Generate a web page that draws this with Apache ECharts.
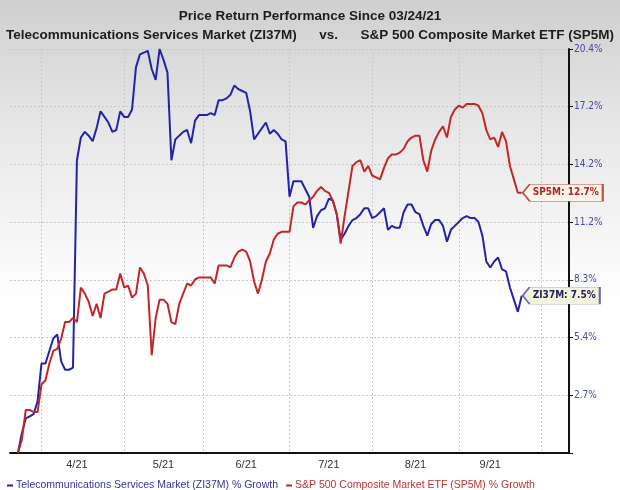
<!DOCTYPE html>
<html>
<head>
<meta charset="utf-8">
<script src="https://cdn.jsdelivr.net/npm/echarts@6/dist/echarts.min.js"></script>
<style>
  html, body { margin: 0; padding: 0; }
  #main {
    width: 620px;
    height: 490px;
    background: linear-gradient(to bottom, #cfcfcf 0%, #e6e6e6 25%, #ffffff 62%, #ffffff 100%);
  }
</style>
</head>
<body>
<div id="main"></div>
<script>
// trading days shown on the x axis (first two are before the data starts)
const startDate = '2021-03-22'
const dayCount = 143
const holidays = ['2021-04-02', '2021-05-31', '2021-07-05', '2021-09-06']
const dataStart = '2021-03-24'

// month labels and the day each one sits on
const xLabels = ['4/21', '5/21', '6/21', '7/21', '8/21', '9/21']
const xLabelDates = ['2021-04-15', '2021-05-17', '2021-06-16', '2021-07-16', '2021-08-17', '2021-09-14']

// right axis tick labels (log spaced on the chart)
const yLabels = ['', '2.7%', '5.4%', '8.3%', '11.2%', '14.2%', '17.2%', '20.4%']
const yTop = 20.4

// % growth since 03/24/21
const zi37m = [
  0.0, 0.9, 1.6, 1.7, 1.8, 2.4, 4.2, 4.2, 4.8, 5.4,
  5.6, 4.3, 3.9, 3.9, 4.0, 14.4, 15.6, 15.9, 15.7, 15.4,
  16.1, 17.0, 16.7, 16.4, 15.9, 16.0, 17.0, 16.7, 16.7, 17.1,
  19.4, 20.1, 20.2, 20.3, 19.3, 18.7, 20.4, 19.8, 19.1, 14.4,
  15.5, 15.7, 15.9, 16.0, 15.3, 16.5, 16.8, 16.8, 16.8, 16.9,
  16.8, 17.6, 17.6, 17.7, 17.9, 18.4, 18.2, 18.1, 18.0, 17.0,
  15.5, 15.8, 16.1, 16.4, 15.8, 16.0, 15.8, 15.5, 15.4, 12.5,
  13.3, 13.3, 13.3, 12.9, 12.5, 10.9, 11.5, 11.8, 11.9, 12.4,
  12.3, 11.6, 10.3, 10.6, 11.0, 11.3, 11.4, 11.6, 11.9, 11.9,
  11.4, 11.5, 11.7, 11.9, 10.8, 11.0, 10.9, 10.9, 11.7, 12.1,
  12.1, 11.7, 11.6, 11.0, 10.5, 11.1, 11.3, 11.3, 11.0, 10.2,
  10.8, 11.0, 11.2, 11.4, 11.5, 11.4, 11.4, 11.2, 10.5, 9.2,
  8.9, 9.2, 9.4, 8.8, 8.7, 7.9, 7.3, 6.7, 7.5
]
const sp5m = [
  0.0, 0.6, 2.0, 2.0, 1.9, 1.9, 3.2, 3.4, 4.2, 4.8,
  4.9, 5.4, 6.2, 6.2, 6.4, 6.2, 7.9, 7.6, 7.2, 6.5,
  7.1, 6.4, 7.6, 7.7, 7.8, 7.8, 8.6, 7.9, 8.0, 7.4,
  7.6, 8.9, 8.6, 8.0, 4.6, 6.4, 7.3, 7.3, 7.1, 6.2,
  6.1, 7.1, 7.6, 8.1, 8.0, 8.3, 8.4, 8.4, 8.4, 8.4,
  8.1, 9.0, 9.0, 9.0, 8.9, 9.4, 9.7, 9.8, 9.7, 9.2,
  8.2, 7.6, 8.3, 9.2, 9.6, 10.3, 10.6, 10.7, 10.7, 10.7,
  12.0, 12.2, 12.2, 12.1, 12.3, 12.5, 12.8, 13.0, 12.8, 12.7,
  12.3, 11.6, 10.1, 11.5, 12.8, 14.1, 14.3, 14.4, 13.8, 14.1,
  13.6, 13.5, 13.4, 14.0, 14.5, 14.7, 14.7, 14.8, 15.0, 15.4,
  15.6, 15.7, 15.7, 14.4, 13.8, 14.9, 15.5, 15.9, 16.2, 15.6,
  16.7, 17.1, 17.3, 17.2, 17.4, 17.4, 17.4, 17.3, 16.9, 16.0,
  15.5, 15.6, 15.1, 15.9, 15.4, 14.1, 13.4, 12.7, 12.7
]

const blueName = 'Telecommunications Services Market (ZI37M) % Growth'
const redName = 'S&P 500 Composite Market ETF (SP5M) % Growth'

function tradingDays(start, count) {
  const out = []
  const d = new Date(start + 'T00:00:00Z')
  while (out.length < count) {
    const s = d.toISOString().slice(0, 10)
    const wd = d.getUTCDay()
    if (wd !== 0 && wd !== 6 && holidays.indexOf(s) < 0) out.push(s)
    d.setUTCDate(d.getUTCDate() + 1)
  }
  return out
}

const categories = tradingDays(startDate, dayCount)
const offset = categories.indexOf(dataStart)
const logStep = Math.log(1 + yTop / 100) / (yLabels.length - 1)
// growth % -> position on the log spaced axis
const toAxis = p => Math.log(1 + p / 100) / logStep

function buildData(values) {
  return categories.map((d, k) => {
    const j = k - offset
    return j >= 0 && j < values.length ? toAxis(values[j]) : null
  })
}

function endTag(values, text, width, fill, border, textColor) {
  const last = values.length - 1
  return {
    silent: true,
    symbol: 'path://M0,8 L7,0 L80,0 L80,16 L7,16 Z',
    symbolKeepAspect: false,
    symbolSize: [width, 17],
    symbolOffset: [width / 2 + 1, 0],
    itemStyle: { color: fill, borderColor: border, borderWidth: 1 },
    label: {
      show: true,
      position: 'inside',
      offset: [3, 0],
      formatter: text,
      color: textColor,
      fontSize: 10,
      fontWeight: 'bold',
      fontFamily: 'DejaVu Sans Condensed, DejaVu Sans, sans-serif'
    },
    data: [{ coord: [categories[last + offset], toAxis(values[last])] }]
  }
}

const chart = echarts.init(document.getElementById('main'), null, { renderer: 'canvas' })

const option = {
  animation: false,
  backgroundColor: 'transparent',
  title: {
    text: 'Price Return Performance Since 03/24/21\nTelecommunications Services Market (ZI37M)      vs.      S&P 500 Composite Market ETF (SP5M)',
    left: 'center',
    top: 2,
    textStyle: {
      fontFamily: 'Liberation Sans, Arial, sans-serif',
      fontSize: 13.5,
      fontWeight: 'bold',
      lineHeight: 19,
      color: '#1c1c1c'
    }
  },
  legend: {
    top: 475,
    left: 2,
    icon: 'rect',
    itemWidth: 6,
    itemHeight: 2,
    itemGap: 8,
    textStyle: {
      fontFamily: 'Liberation Sans, Arial, sans-serif',
      fontSize: 10.5,
      padding: [0, 0, 0, -2]
    },
    data: [
      { name: blueName, textStyle: { color: '#3434a0' } },
      { name: redName, textStyle: { color: '#bb3333' } }
    ]
  },
  grid: { left: 10, right: 51, top: 49, bottom: 37 },
  xAxis: {
    type: 'category',
    boundaryGap: false,
    data: categories,
    axisLine: { lineStyle: { color: '#111', width: 2 } },
    axisTick: { show: false },
    axisLabel: {
      interval: (index, value) => xLabelDates.indexOf(value) >= 0,
      formatter: value => xLabels[xLabelDates.indexOf(value)] || '',
      color: '#333',
      fontSize: 11,
      margin: 6,
      fontFamily: 'Liberation Sans, Arial, sans-serif'
    },
    splitLine: {
      show: true,
      interval: (index, value) => index > 0 && value.slice(5, 7) !== categories[index - 1].slice(5, 7),
      lineStyle: { color: '#c8c8c8', type: [2, 2], width: 1 }
    }
  },
  yAxis: {
    type: 'value',
    position: 'right',
    min: 0,
    max: yLabels.length - 1,
    interval: 1,
    axisLine: { show: true, lineStyle: { color: '#111', width: 2 } },
    axisTick: { show: true, length: 4, lineStyle: { color: '#111' } },
    axisLabel: {
      formatter: v => yLabels[v] || '',
      color: '#4646a8',
      fontSize: 10,
      margin: 5,
      fontFamily: 'DejaVu Sans Condensed, DejaVu Sans, sans-serif'
    },
    splitLine: { lineStyle: { color: '#c8c8c8', type: [2, 2], width: 1 } }
  },
  series: [
    {
      name: blueName,
      type: 'line',
      data: buildData(zi37m),
      showSymbol: false,
      color: '#2323a8',
      lineStyle: { width: 2 },
      markPoint: endTag(zi37m, 'ZI37M: 7.5%', 77, '#f4f3de', '#6a6aaa', '#20205e')
    },
    {
      name: redName,
      type: 'line',
      data: buildData(sp5m),
      showSymbol: false,
      color: '#c02828',
      lineStyle: { width: 2 },
      markPoint: endTag(sp5m, 'SP5M: 12.7%', 80, '#fbf4ea', '#c44a3a', '#b02626')
    }
  ]
}

chart.setOption(option)
</script>
</body>
</html>
